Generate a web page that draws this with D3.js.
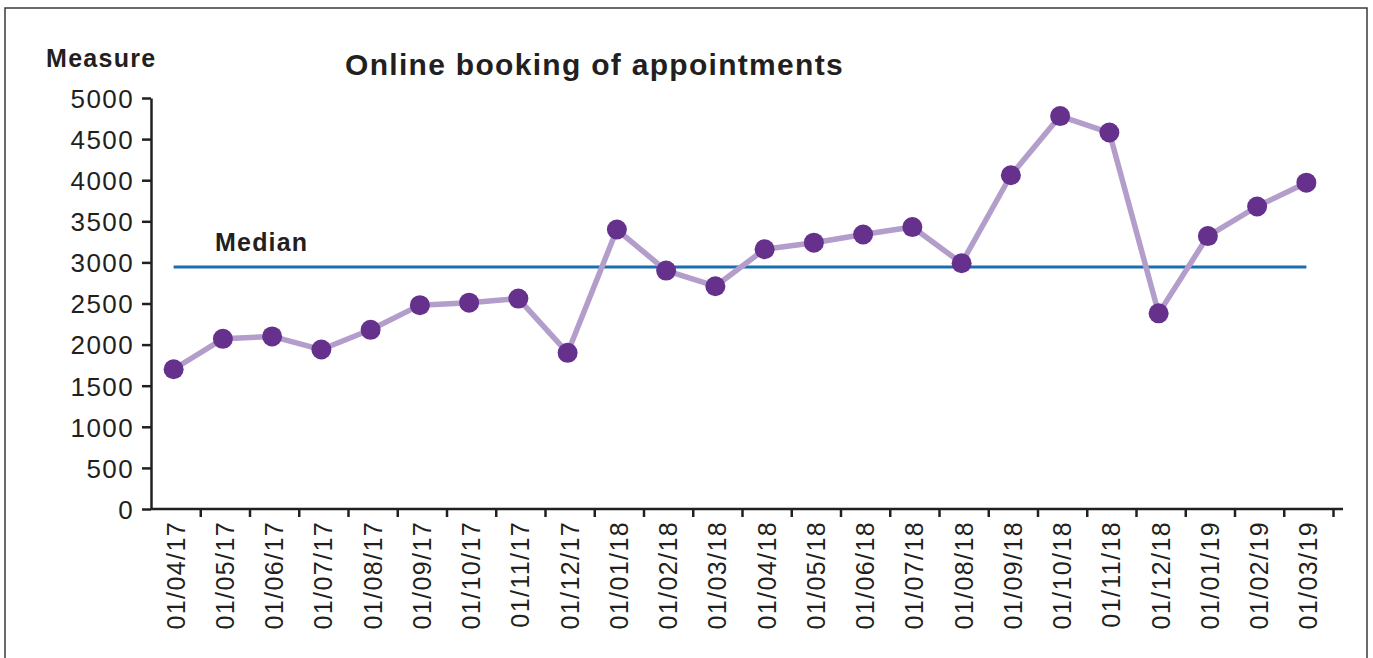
<!DOCTYPE html>
<html>
<head>
<meta charset="utf-8">
<script src="https://cdn.jsdelivr.net/npm/d3@7"></script>
<style>
  body { margin: 0; background: #fff; }
  svg text { font-family: "Liberation Sans", Arial, Helvetica, sans-serif; fill: #231f20; }
</style>
</head>
<body>
<svg id="chart" width="1373" height="658"></svg>
<script>
// data
let months = ["01/04/17", "01/05/17", "01/06/17", "01/07/17", "01/08/17", "01/09/17",
    "01/10/17", "01/11/17", "01/12/17", "01/01/18", "01/02/18", "01/03/18",
    "01/04/18", "01/05/18", "01/06/18", "01/07/18", "01/08/18", "01/09/18",
    "01/10/18", "01/11/18", "01/12/18", "01/01/19", "01/02/19", "01/03/19"];
let bookings = [1700, 2070, 2100, 1940, 2180, 2480, 2510, 2560, 1900, 3400, 2900, 2710,
    3160, 3240, 3340, 3430, 2990, 4060, 4780, 4580, 2380, 3320, 3680, 3970];
let yTicks = [0, 500, 1000, 1500, 2000, 2500, 3000, 3500, 4000, 4500, 5000];

let svg = d3.select("#chart");
let axisColor = "#231f20";

// frame round the whole figure
svg.append("rect")
    .attr("x", 5).attr("y", 8)
    .attr("width", 1362).attr("height", 700)
    .attr("fill", "none")
    .attr("stroke", "#3a3a3a")
    .attr("stroke-width", 1.5);

let plot = {left: 151, right: 1333, top: 98, bottom: 509};

let x = d3.scaleBand().domain(months).range([plot.left, plot.right]);
let edges = d3.scaleLinear().domain([0, months.length]).range([plot.left, plot.right]);
let y = d3.scaleLinear().domain([0, 5000]).range([plot.bottom, plot.top]);

let cx = d => x(d) + x.bandwidth() / 2 - 2;

// y axis
let yAxis = svg.append("g")
    .attr("transform", "translate(" + plot.left + ",0)")
    .call(d3.axisLeft(y).tickValues(yTicks).tickFormat(d3.format("d"))
        .tickSize(9).tickPadding(8).tickSizeOuter(0));
yAxis.select(".domain").attr("stroke", axisColor).attr("stroke-width", 2.5);
yAxis.selectAll(".tick line").attr("stroke", axisColor).attr("stroke-width", 2.5);
yAxis.selectAll("text")
    .style("font-size", "26px")
    .style("letter-spacing", "1.4px")
    .attr("dy", "0.36em");

// x axis: ticks sit on band edges, labels in band centres
let xTickAxis = svg.append("g")
    .attr("transform", "translate(0," + plot.bottom + ")")
    .call(d3.axisBottom(edges).tickValues(d3.range(1, months.length + 1)).tickSize(8)
        .tickFormat("").tickSizeOuter(0));
xTickAxis.select(".domain").remove();
xTickAxis.selectAll(".tick line").attr("stroke", axisColor).attr("stroke-width", 2.5);

svg.append("line")
    .attr("x1", edges(0)).attr("x2", edges(months.length) + 10)
    .attr("y1", plot.bottom).attr("y2", plot.bottom)
    .attr("stroke", axisColor).attr("stroke-width", 2.5);

svg.append("g").selectAll("text")
    .data(months).enter()
    .append("text")
    .attr("transform", d => "translate(" + (cx(d) + 11) + "," + (plot.bottom + 12) + ") rotate(-90)")
    .attr("text-anchor", "end")
    .style("font-size", "25px")
    .style("letter-spacing", "1.4px")
    .text(d => d);

// median line
let median = d3.median(bookings);
svg.append("line")
    .attr("x1", cx(months[0])).attr("x2", cx(months[months.length - 1]))
    .attr("y1", y(median)).attr("y2", y(median))
    .attr("stroke", "#1c6fae")
    .attr("stroke-width", 3);

svg.append("text")
    .attr("x", 215).attr("y", y(median) - 16)
    .style("font-size", "25px").style("font-weight", "bold")
    .style("letter-spacing", "1.2px")
    .text("Median");

// series line and dots
let line = d3.line()
    .x((d, i) => cx(months[i]))
    .y(d => y(d));

svg.append("path")
    .datum(bookings)
    .attr("d", line)
    .attr("fill", "none")
    .attr("stroke", "#b39dca")
    .attr("stroke-width", 5.5)
    .attr("stroke-linejoin", "round");

svg.append("g").selectAll("circle")
    .data(bookings).enter()
    .append("circle")
    .attr("cx", (d, i) => cx(months[i]))
    .attr("cy", d => y(d))
    .attr("r", 10)
    .attr("fill", "#66308d");

// titles
svg.append("text")
    .attr("x", 46).attr("y", 67)
    .style("font-size", "25px").style("font-weight", "bold")
    .style("letter-spacing", "1.3px")
    .text("Measure");

svg.append("text")
    .attr("x", 345).attr("y", 75)
    .style("font-size", "30px").style("font-weight", "bold")
    .style("letter-spacing", "1.3px")
    .text("Online booking of appointments");
</script>
</body>
</html>
